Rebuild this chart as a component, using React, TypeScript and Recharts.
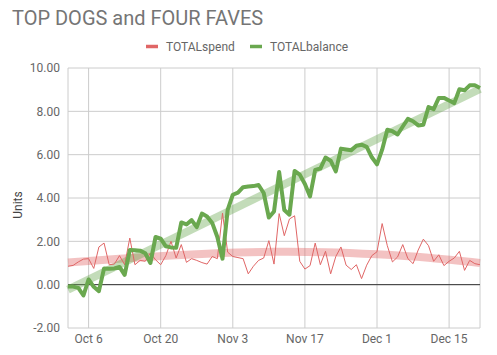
import React from 'react';
import {
    LineChart,
    Line,
    XAxis,
    YAxis,
    CartesianGrid,
    ReferenceLine
} from 'recharts';

// daily values, Oct 2 .. Dec 21
const totalSpend = [
    0.85, 0.89, 1.05, 1.18, 1.2, 0.75, 1.74, 1.92, 0.92, 0.95,
    1.34, 0.92, 2.15, 0.92, 1.12, 1.08, 1.46, 1.15, 0.92, 1.34,
    2.0, 1.23, 1.85, 1.03, 1.2, 1.12, 1.02, 0.95, 1.3, 1.2,
    3.3, 1.5, 1.3, 1.25, 1.2, 0.5, 0.85, 1.12, 1.23, 2.03,
    0.95, 3.28, 2.26, 3.03, 3.18, 1.08, 0.72, 0.88, 1.92, 0.92,
    1.54, 0.5, 1.3, 1.74, 0.9, 0.7, 0.92, 0.28, 0.9, 1.34,
    1.52, 2.82, 1.8, 1.05, 1.28, 1.85, 1.2, 0.97, 1.6, 2.1,
    1.8, 1.08, 1.38, 0.88, 1.08, 1.23, 1.54, 0.66, 1.12, 0.97,
    0.92
];

const totalBalance = [
    -0.08, -0.09, -0.15, -0.5, 0.24, -0.1, -0.3, 0.75, 0.74, 0.75,
    0.82, 0.45, 1.6, 1.59, 1.57, 1.45, 1.0, 2.2, 2.12, 1.77,
    1.72, 1.7, 2.87, 2.78, 2.98, 2.66, 3.28, 3.15, 2.85, 2.2,
    1.2, 3.45, 4.15, 4.25, 4.5, 4.53, 4.55, 4.6, 4.23, 3.1,
    3.38, 5.2, 3.45, 3.23, 5.25, 5.08, 4.65, 4.07, 5.3, 5.36,
    5.87, 5.72, 5.23, 6.28, 6.24, 6.2, 6.41, 6.46, 6.36, 5.88,
    5.55, 6.23, 7.15, 7.08, 6.93, 7.3, 7.65, 7.54, 7.35, 7.38,
    8.2, 8.1, 8.62, 8.62, 8.5, 8.38, 9.02, 8.97, 9.2, 9.2,
    9.08
];

// trendlines
const spendTrendDays = [0, 10, 20, 30, 40, 50, 60, 70, 80];
const spendTrendValues = [1.02, 1.2, 1.35, 1.46, 1.52, 1.5, 1.4, 1.24, 1.0];
const balanceTrendDays = [0, 80];
const balanceTrendValues = [-0.23, 9.03];

const xTickDays = [4, 18, 32, 46, 60, 74];
const xTickLabels = ['Oct 6', 'Oct 20', 'Nov 3', 'Nov 17', 'Dec 1', 'Dec 15'];
const yTicks = [-2, 0, 2, 4, 6, 8, 10];

const legendItems = [
    { name: 'TOTALspend', color: '#e06666' },
    { name: 'TOTALbalance', color: '#6aa84f' },
];

const FONT = 'Roboto, sans-serif';

const rows = totalSpend.map((spend, day) => {
    const si = spendTrendDays.indexOf(day);
    const bi = balanceTrendDays.indexOf(day);
    return {
        day,
        spend,
        balance: totalBalance[day],
        spendTrend: si >= 0 ? spendTrendValues[si] : null,
        balanceTrend: bi >= 0 ? balanceTrendValues[bi] : null,
    };
});

export default function App() {
    return (
        <div style={{ position: 'absolute', left: 0, top: 0, width: 497, height: 355, background: '#fff' }}>
            <LineChart width={497} height={355} data={rows} margin={{ top: 68, right: 17, bottom: 0, left: 0 }}>
                <CartesianGrid stroke="#cccccc" />
                <XAxis
                    dataKey="day"
                    type="number"
                    domain={[0, 80]}
                    ticks={xTickDays}
                    interval={0}
                    tickFormatter={(d) => xTickLabels[xTickDays.indexOf(d)]}
                    axisLine={false}
                    tickLine={false}
                    height={27}
                    tickSize={4}
                    tickMargin={2}
                    tick={{ fill: '#666', fontSize: 12, fontFamily: FONT }}
                />
                <YAxis
                    domain={[-2, 10]}
                    ticks={yTicks}
                    interval={0}
                    tickFormatter={(v) => v.toFixed(2)}
                    axisLine={false}
                    tickLine={false}
                    width={68}
                    tick={{ fill: '#666', fontSize: 12, fontFamily: FONT }}
                />
                <ReferenceLine y={0} stroke="#333" strokeWidth={1} />
                <Line
                    dataKey="spendTrend"
                    type="natural"
                    connectNulls
                    stroke="#e06666"
                    strokeOpacity={0.4}
                    strokeWidth={8}
                    dot={false}
                    activeDot={false}
                    isAnimationActive={false}
                />
                <Line
                    dataKey="balanceTrend"
                    type="linear"
                    connectNulls
                    stroke="#6aa84f"
                    strokeOpacity={0.4}
                    strokeWidth={8}
                    dot={false}
                    activeDot={false}
                    isAnimationActive={false}
                />
                <Line
                    dataKey="spend"
                    type="linear"
                    stroke="#e06666"
                    strokeWidth={1}
                    dot={false}
                    activeDot={false}
                    isAnimationActive={false}
                />
                <Line
                    dataKey="balance"
                    type="linear"
                    stroke="#6aa84f"
                    strokeWidth={4}
                    strokeLinejoin="round"
                    dot={false}
                    activeDot={false}
                    isAnimationActive={false}
                />
            </LineChart>
            <svg width={497} height={355} style={{ position: 'absolute', left: 0, top: 0, pointerEvents: 'none' }}>
                <text x={12} y={25} fontSize={20} fill="#757575" fontFamily={FONT}>
                    TOP DOGS and FOUR FAVES
                </text>
                {legendItems.map((item, i) => {
                    const x0 = i === 0 ? 146 : 250;
                    return (
                        <g key={item.name}>
                            <line x1={x0} x2={x0 + 12} y1={46.5} y2={46.5} stroke={item.color} strokeWidth={3.5} />
                            <text x={x0 + 20} y={51} fontSize={12} fill="#666" fontFamily={FONT}>
                                {item.name}
                            </text>
                        </g>
                    );
                })}
                <text
                    transform="translate(22,205) rotate(-90)"
                    textAnchor="middle"
                    fontSize={12}
                    fill="#444"
                    fontFamily={FONT}
                >
                    Units
                </text>
            </svg>
        </div>
    );
}
